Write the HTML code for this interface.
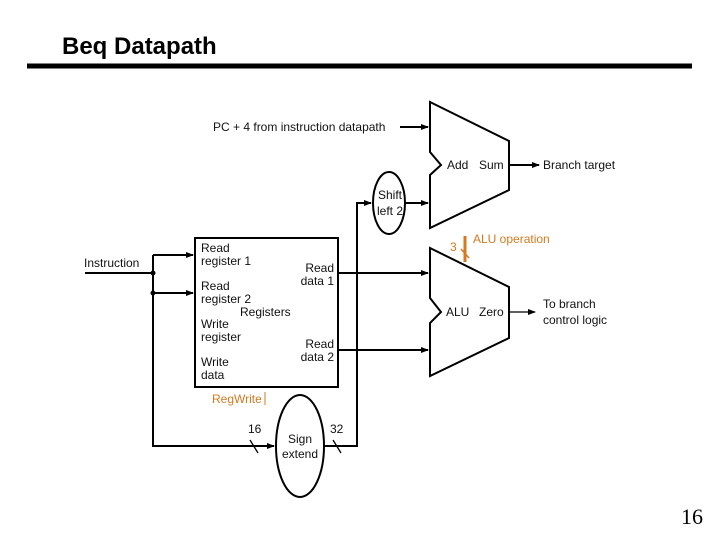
<!DOCTYPE html>
<html><head><style>
body{margin:0;background:#fff;}
svg text{font-family:"Liberation Sans",sans-serif;}
</style></head><body>
<svg width="720" height="540" viewBox="0 0 720 540" xmlns="http://www.w3.org/2000/svg">
<defs><marker id="a" markerWidth="8" markerHeight="8" refX="7" refY="4" orient="auto" markerUnits="userSpaceOnUse"><path d="M0,1 L8,4 L0,7Z" fill="#000"/></marker></defs>
<text x="62" y="54" font-size="24" font-weight="bold">Beq Datapath</text>
<rect x="27" y="63.5" width="665" height="5" fill="#000"/>
<text x="703" y="524" font-size="22" text-anchor="end" style="font-family:'Liberation Serif',serif">16</text>
<g stroke="#000" fill="none" stroke-width="2">
<rect x="195" y="238" width="143" height="149" fill="#fff"/>
<path d="M430,102 L509,141 L509,190 L430,228 L430,175 L441,165 L430,152Z" fill="#fff"/>
<path d="M430,248 L509,287 L509,338 L430,376 L430,323 L441,312 L430,298Z" fill="#fff"/>
<ellipse cx="389" cy="203" rx="16" ry="31" fill="#fff"/>
<ellipse cx="300" cy="446" rx="24" ry="51" fill="#fff"/>
<polyline points="85,273 153,273"/>
<polyline points="153,255 153,446 274,446" marker-end="url(#a)"/>
<polyline points="153,255 193,255" marker-end="url(#a)"/>
<polyline points="153,293 193,293" marker-end="url(#a)"/>
<polyline points="324,446 357,446 357,203 371,203" marker-end="url(#a)"/>
<polyline points="405,203 428,203" marker-end="url(#a)"/>
<polyline points="338,273 428,273" marker-end="url(#a)"/>
<polyline points="338,350 428,350" marker-end="url(#a)"/>
<polyline points="400,127 428,127" marker-end="url(#a)"/>
<polyline points="509,165 539,165" marker-end="url(#a)"/>
<polyline points="509,312 535,312" stroke-width="1.3" marker-end="url(#a)"/>
</g>
<g fill="#000"><circle cx="153" cy="273" r="2.5"/><circle cx="153" cy="293" r="2.5"/></g>
<g stroke="#000" stroke-width="1.3">
<line x1="250" y1="440" x2="258" y2="453"/><line x1="333" y1="440" x2="341" y2="453"/>
</g>
<g font-size="12" fill="#111">
<text x="213" y="131">PC + 4 from instruction datapath</text>
<text x="84" y="267">Instruction</text>
<text x="543" y="169">Branch target</text>
<text x="543" y="308">To branch</text>
<text x="543" y="324">control logic</text>
<text x="201" y="252">Read</text><text x="201" y="265">register 1</text>
<text x="201" y="290">Read</text><text x="201" y="303">register 2</text>
<text x="240" y="316">Registers</text>
<text x="201" y="328">Write</text><text x="201" y="341">register</text>
<text x="201" y="366">Write</text><text x="201" y="379">data</text>
<text x="334" y="272" text-anchor="end">Read</text><text x="334" y="285" text-anchor="end">data 1</text>
<text x="334" y="348" text-anchor="end">Read</text><text x="334" y="361" text-anchor="end">data 2</text>
<text x="447" y="169">Add</text><text x="479" y="169">Sum</text>
<text x="446" y="316">ALU</text><text x="479" y="316">Zero</text>
<text x="390" y="199" text-anchor="middle">Shift</text><text x="390" y="215" text-anchor="middle">left 2</text>
<text x="300" y="443" text-anchor="middle">Sign</text><text x="300" y="458" text-anchor="middle">extend</text>
<text x="248" y="433">16</text><text x="330" y="433">32</text>
</g>
<g font-size="12" fill="#d47a20">
<text x="212" y="403">RegWrite</text>
<text x="473" y="243">ALU operation</text>
<text x="450" y="251">3</text>
</g>
<line x1="265" y1="392" x2="265" y2="405" stroke="#d47a20"/>
<line x1="465" y1="236" x2="465" y2="262" stroke="#d47a20" stroke-width="3"/>
<line x1="461" y1="249" x2="469" y2="258" stroke="#d47a20" stroke-width="1.5"/>
</svg>
</body></html>
